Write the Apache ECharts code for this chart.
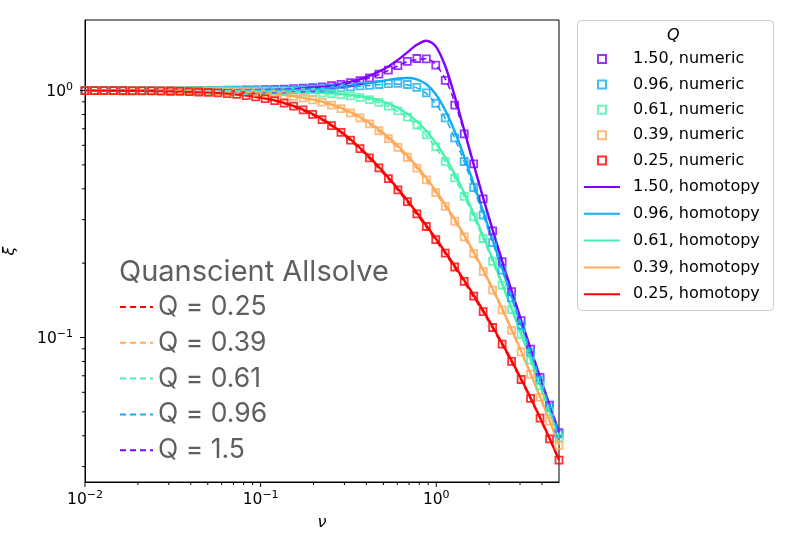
<!DOCTYPE html>
<html>
<head>
<meta charset="utf-8">
<script src="https://cdn.jsdelivr.net/npm/echarts@6/dist/echarts.min.js"></script>
<style>
html, body { margin: 0; padding: 0; background: #fff; }
#chart { width: 795px; height: 545px; }
</style>
</head>
<body>
<div id="chart"></div>
<script>
// frequency grid (same for every curve)
var nu = [0.01, 0.01132, 0.01282, 0.01452, 0.01644, 0.01862, 0.02108, 0.02387, 0.02703, 0.03061,
    0.03466, 0.03925, 0.04445, 0.05033, 0.05699, 0.06453, 0.07308, 0.08275, 0.0937, 0.1061,
    0.1202, 0.1361, 0.1541, 0.1745, 0.1976, 0.2237, 0.2533, 0.2868, 0.3248, 0.3678,
    0.4165, 0.4716, 0.534, 0.6047, 0.6848, 0.7754, 0.878, 0.9936, 1.125, 1.274,
    1.443, 1.634, 1.85, 2.095, 2.372, 2.686, 3.042, 3.444, 3.9, 4.416, 5.0];

var xRange = [0.01, 5];
var yRange = [0.026, 1.93];
var xMajor = [0.01, 0.1, 1];
var xMinor = [0.02, 0.03, 0.04, 0.05, 0.06, 0.07, 0.08, 0.09, 0.2, 0.3, 0.4, 0.5, 0.6, 0.7, 0.8, 0.9, 2, 3, 4];
var yMajor = [0.1, 1];
var yMinor = [0.03, 0.04, 0.05, 0.06, 0.07, 0.08, 0.09, 0.2, 0.3, 0.4, 0.5, 0.6, 0.7, 0.8, 0.9];

// homotopy (solid)
var homotopy150 = [1.0001, 1.0001, 1.0001, 1.0002, 1.0002, 1.0003, 1.0003, 1.0004, 1.0006, 1.0007,
    1.0009, 1.0012, 1.0015, 1.0020, 1.0025, 1.0033, 1.0042, 1.0053, 1.0069, 1.0088,
    1.0113, 1.0145, 1.0187, 1.0241, 1.0310, 1.0399, 1.0516, 1.0668, 1.0866, 1.1126,
    1.1469, 1.1923, 1.2523, 1.3305, 1.4279, 1.5318, 1.5910, 1.5094, 1.2564, 0.9492,
    0.6910, 0.5018, 0.3679, 0.2729, 0.2045, 0.1546, 0.1177, 0.0901, 0.0692, 0.0534, 0.0413];
var homotopy096 = [1.0000, 1.0001, 1.0001, 1.0001, 1.0001, 1.0002, 1.0002, 1.0003, 1.0003, 1.0004,
    1.0005, 1.0007, 1.0009, 1.0012, 1.0015, 1.0019, 1.0024, 1.0031, 1.0040, 1.0051,
    1.0066, 1.0084, 1.0108, 1.0137, 1.0175, 1.0224, 1.0285, 1.0361, 1.0457, 1.0573,
    1.0713, 1.0872, 1.1041, 1.1186, 1.1245, 1.1102, 1.0606, 0.9661, 0.8320, 0.6820,
    0.5401, 0.4195, 0.3231, 0.2481, 0.1907, 0.1467, 0.1131, 0.0874, 0.0677, 0.0525, 0.0407];
var homotopy061 = [1.0000, 1.0000, 0.9999, 0.9999, 0.9999, 0.9999, 0.9999, 0.9998, 0.9998, 0.9997,
    0.9996, 0.9995, 0.9993, 0.9991, 0.9989, 0.9986, 0.9982, 0.9976, 0.9970, 0.9961,
    0.9950, 0.9936, 0.9917, 0.9893, 0.9861, 0.9821, 0.9767, 0.9698, 0.9607, 0.9486,
    0.9328, 0.9120, 0.8848, 0.8497, 0.8053, 0.7507, 0.6861, 0.6140, 0.5366, 0.4588,
    0.3846, 0.3169, 0.2577, 0.2073, 0.1655, 0.1313, 0.1037, 0.0817, 0.0642, 0.0503, 0.0394];
var homotopy039 = [0.9998, 0.9997, 0.9996, 0.9995, 0.9994, 0.9992, 0.9990, 0.9987, 0.9983, 0.9979,
    0.9973, 0.9965, 0.9955, 0.9943, 0.9927, 0.9906, 0.9880, 0.9847, 0.9805, 0.9751,
    0.9684, 0.9600, 0.9495, 0.9365, 0.9205, 0.9011, 0.8778, 0.8503, 0.8182, 0.7815,
    0.7405, 0.6956, 0.6474, 0.5969, 0.5451, 0.4931, 0.4419, 0.3925, 0.3451, 0.3007,
    0.2595, 0.2218, 0.1878, 0.1575, 0.1309, 0.1078, 0.0881, 0.0714, 0.0576, 0.0461, 0.0368];
var homotopy025 = [0.9993, 0.9991, 0.9989, 0.9985, 0.9981, 0.9976, 0.9969, 0.9960, 0.9949, 0.9935,
    0.9917, 0.9894, 0.9865, 0.9827, 0.9780, 0.9720, 0.9646, 0.9553, 0.9437, 0.9294,
    0.9120, 0.8911, 0.8662, 0.8371, 0.8038, 0.7663, 0.7250, 0.6806, 0.6340, 0.5860,
    0.5377, 0.4901, 0.4439, 0.3999, 0.3584, 0.3198, 0.2841, 0.2516, 0.2218, 0.1948,
    0.1703, 0.1483, 0.1284, 0.1106, 0.0947, 0.0806, 0.0680, 0.0570, 0.0474, 0.0391, 0.0320];

// numeric (square markers)
var numeric150 = [1.0000, 1.0000, 1.0001, 1.0001, 1.0002, 1.0002, 1.0003, 1.0004, 1.0005, 1.0007,
    1.0008, 1.0011, 1.0014, 1.0018, 1.0023, 1.0029, 1.0037, 1.0048, 1.0061, 1.0079,
    1.0101, 1.0129, 1.0166, 1.0214, 1.0275, 1.0353, 1.0455, 1.0586, 1.0755, 1.0975,
    1.126, 1.165, 1.210, 1.262, 1.312, 1.348, 1.342, 1.268, 1.100, 0.872,
    0.668, 0.505, 0.364, 0.270, 0.2030, 0.1535, 0.1170, 0.0897, 0.0690, 0.0532, 0.0412];
var numeric096 = [1.0000, 1.0000, 1.0001, 1.0001, 1.0001, 1.0001, 1.0002, 1.0002, 1.0003, 1.0003,
    1.0004, 1.0006, 1.0007, 1.0009, 1.0012, 1.0015, 1.0020, 1.0025, 1.0032, 1.0041,
    1.0053, 1.0067, 1.0086, 1.0110, 1.0140, 1.0177, 1.0224, 1.0282, 1.0353, 1.0436,
    1.050, 1.058, 1.066, 1.068, 1.058, 1.030, 0.978, 0.888, 0.775, 0.643,
    0.516, 0.405, 0.3134, 0.2425, 0.1873, 0.1448, 0.1120, 0.0867, 0.0673, 0.0522, 0.0406];
var numeric061 = [1.0000, 0.9999, 0.9999, 0.9999, 0.9999, 0.9998, 0.9998, 0.9997, 0.9997, 0.9996,
    0.9995, 0.9993, 0.9991, 0.9989, 0.9985, 0.9981, 0.9976, 0.9969, 0.9960, 0.9949,
    0.9935, 0.9916, 0.9892, 0.9861, 0.9822, 0.9771, 0.9704, 0.9619, 0.9508, 0.9366,
    0.9182, 0.8946, 0.8645, 0.8268, 0.7804, 0.7250, 0.6611, 0.5910, 0.5169, 0.4430,
    0.3725, 0.3082, 0.2517, 0.2033, 0.1628, 0.1296, 0.1027, 0.0810, 0.0638, 0.0501, 0.0393];
var numeric039 = [0.9998, 0.9997, 0.9996, 0.9995, 0.9993, 0.9991, 0.9989, 0.9986, 0.9982, 0.9977,
    0.9971, 0.9963, 0.9953, 0.9940, 0.9923, 0.9901, 0.9874, 0.9840, 0.9795, 0.9740,
    0.9670, 0.9582, 0.9472, 0.9337, 0.9171, 0.8971, 0.8730, 0.8446, 0.8118, 0.7744,
    0.7327, 0.6873, 0.6388, 0.5883, 0.5368, 0.4852, 0.4346, 0.3859, 0.3394, 0.2958,
    0.2555, 0.2186, 0.1853, 0.1556, 0.1295, 0.1068, 0.0874, 0.0710, 0.0572, 0.0459, 0.0366];
var numeric025 = [0.9993, 0.9991, 0.9989, 0.9985, 0.9981, 0.9975, 0.9968, 0.9959, 0.9948, 0.9933,
    0.9915, 0.9892, 0.9862, 0.9824, 0.9776, 0.9715, 0.9639, 0.9544, 0.9425, 0.9280,
    0.9103, 0.8891, 0.8639, 0.8344, 0.8007, 0.7629, 0.7214, 0.6768, 0.6300, 0.5819,
    0.5337, 0.4862, 0.4402, 0.3964, 0.3552, 0.3169, 0.2815, 0.2493, 0.2198, 0.1930,
    0.1688, 0.1470, 0.1274, 0.1098, 0.0940, 0.0800, 0.0676, 0.0567, 0.0472, 0.0389, 0.0319];

// Quanscient Allsolve (dashed), every second frequency
var allsolve150 = [1.0000, 1.0001, 1.0002, 1.0003, 1.0005, 1.0008, 1.0014, 1.0022, 1.0036, 1.0059,
    1.0098, 1.0160, 1.0265, 1.0440, 1.0735, 1.1230, 1.2060, 1.3080, 1.3450, 1.1150,
    0.6780, 0.3660, 0.2010, 0.1168, 0.0689, 0.0412];
var allsolve096 = [1.0000, 1.0001, 1.0001, 1.0002, 1.0003, 1.0004, 1.0007, 1.0011, 1.0019, 1.0030,
    1.0050, 1.0082, 1.0133, 1.0212, 1.0335, 1.0480, 1.0630, 1.0540, 0.9720, 0.7720,
    0.5140, 0.3125, 0.1870, 0.1118, 0.0672, 0.0405];
var allsolve061 = [1.0000, 0.9999, 0.9999, 0.9998, 0.9996, 0.9994, 0.9990, 0.9983, 0.9972, 0.9954,
    0.9925, 0.9878, 0.9802, 0.9680, 0.9485, 0.9160, 0.8620, 0.7775, 0.6580, 0.5150,
    0.3715, 0.2512, 0.1625, 0.1025, 0.0637, 0.0392];
var allsolve039 = [0.9998, 0.9996, 0.9993, 0.9988, 0.9981, 0.9969, 0.9950, 0.9918, 0.9866, 0.9785,
    0.9655, 0.9450, 0.9140, 0.8690, 0.8070, 0.7275, 0.6340, 0.5330, 0.4318, 0.3375,
    0.2543, 0.1846, 0.1291, 0.0872, 0.0571, 0.0365];
var allsolve025 = [0.9993, 0.9988, 0.9979, 0.9965, 0.9943, 0.9907, 0.9850, 0.9760, 0.9615, 0.9395,
    0.9065, 0.8595, 0.7960, 0.7170, 0.6260, 0.5300, 0.4370, 0.3525, 0.2793, 0.2180,
    0.1673, 0.1263, 0.0932, 0.0671, 0.0469, 0.0318];

var qLabels = ['1.50', '0.96', '0.61', '0.39', '0.25'];
var qShort = ['1.5', '0.96', '0.61', '0.39', '0.25'];
var colors = ['#8000ff', '#14acf0', '#46f2ad', '#ffaa5a', '#ff0000'];

var homotopy = [homotopy150, homotopy096, homotopy061, homotopy039, homotopy025];
var numeric = [numeric150, numeric096, numeric061, numeric039, numeric025];
var allsolve = [allsolve150, allsolve096, allsolve061, allsolve039, allsolve025];
var nuDash = nu.filter(function (v, i) { return i % 2 === 0; });

function pairs(xs, ys) {
    return ys.map(function (y, i) { return [xs[i], y]; });
}

function powLabel(v) {
    var e = Math.round(Math.log(v) / Math.LN10);
    return '{b|10}{s|' + (e < 0 ? '\u2212' + (-e) : e) + '}';
}
var powRich = {
    b: { fontSize: 15.5, fontFamily: 'DejaVu Sans', color: '#000', verticalAlign: 'bottom' },
    s: { fontSize: 11, fontFamily: 'DejaVu Sans', color: '#000', verticalAlign: 'top', padding: [0, 0, 7, 0] }
};

// outward tick marks drawn through the axes (matplotlib style major/minor)
function tickSeries(values, dim, len) {
    return {
        type: 'custom', silent: true, clip: false, z: 6,
        data: values.map(function (v) { return dim === 'x' ? [v, yRange[0]] : [xRange[0], v]; }),
        renderItem: function (params, api) {
            var p = api.coord([api.value(0), api.value(1)]);
            var shape = dim === 'x'
                ? { x1: p[0], y1: p[1], x2: p[0], y2: p[1] + len }
                : { x1: p[0] - len, y1: p[1], x2: p[0], y2: p[1] };
            return { type: 'line', shape: shape, style: { stroke: '#000', lineWidth: 1 } };
        }
    };
}

var series = [];
for (var i = 0; i < 5; i++) {
    series.push({
        name: qLabels[i] + ', homotopy', type: 'line', z: 2,
        data: pairs(nu, homotopy[i]), symbol: 'none', smooth: 0.3,
        lineStyle: { color: colors[i], width: 2.4 }, itemStyle: { color: colors[i] }
    });
}
for (var i = 0; i < 5; i++) {
    series.push({
        name: qLabels[i] + ', numeric', type: 'scatter', z: 3,
        data: pairs(nu, numeric[i]), symbol: 'rect', symbolSize: 7,
        itemStyle: { color: 'rgba(255,255,255,0)', borderColor: colors[i], borderWidth: 1.8 }
    });
}
for (var i = 0; i < 5; i++) {
    series.push({
        name: 'Q = ' + qShort[i], type: 'line', z: 4,
        data: pairs(nuDash, allsolve[i]), symbol: 'none', smooth: 0.3,
        lineStyle: { color: colors[i], width: 1.5, type: [6, 4] }, itemStyle: { color: colors[i] }
    });
}
series.push(tickSeries(xMajor, 'x', 5));
series.push(tickSeries(xMinor, 'x', 3));
series.push(tickSeries(yMajor, 'y', 5));
series.push(tickSeries(yMinor, 'y', 3));

var noSymbol = { color: 'rgba(0,0,0,0)', borderWidth: 0 };

var myChart = echarts.init(document.getElementById('chart'));
var option = {
    animation: false,
    backgroundColor: '#fff',
    title: [{
        text: 'Quanscient Allsolve', left: 119, top: 258, padding: 0,
        textStyle: { fontFamily: 'Inter', fontSize: 29, fontWeight: 'normal', color: '#5f5f5f' }
    }, {
        text: 'Q', left: 667, top: 28, padding: 0,
        textStyle: { fontFamily: 'DejaVu Sans', fontSize: 16, fontStyle: 'italic', fontWeight: 'normal', color: '#000' }
    }],
    graphic: [{
        type: 'rect', left: 577, top: 20, z: 0,
        shape: { width: 196, height: 290, r: 4 },
        style: { fill: '#fff', stroke: '#cccccc', lineWidth: 1 }
    }],
    legend: [{
        data: qLabels.map(function (q) { return q + ', numeric'; }),
        orient: 'vertical', left: 597, top: 49, padding: 0, selectedMode: false,
        itemWidth: 8, itemHeight: 8, itemGap: 5.4,
        textStyle: { fontFamily: 'DejaVu Sans', fontSize: 16, lineHeight: 20, color: '#000', padding: [0, 0, 0, 22] }
    }, {
        data: qLabels.map(function (q) { return q + ', homotopy'; }),
        orient: 'vertical', left: 583, top: 177, padding: 0, selectedMode: false,
        itemWidth: 36, itemHeight: 12, itemGap: 6.8, itemStyle: noSymbol,
        textStyle: { fontFamily: 'DejaVu Sans', fontSize: 16, lineHeight: 20, color: '#000', padding: [0, 0, 0, 8] }
    }, {
        data: qShort.slice().reverse().map(function (q) { return 'Q = ' + q; }),
        orient: 'vertical', left: 119, top: 292, padding: 0, selectedMode: false,
        itemWidth: 33, itemHeight: 12, itemGap: 5.8, itemStyle: noSymbol,
        textStyle: { fontFamily: 'Inter', fontSize: 26.5, lineHeight: 30, color: '#5f5f5f' }
    }],
    grid: {
        left: 85, right: 236, top: 20, bottom: 63,
        containLabel: false, outerBoundsMode: 'none',
        show: true, borderColor: '#000', borderWidth: 1, backgroundColor: 'rgba(0,0,0,0)'
    },
    xAxis: {
        type: 'log', min: xRange[0], max: xRange[1], position: 'bottom',
        axisLine: { show: true, lineStyle: { color: '#000', width: 1 } }, splitLine: { show: false },
        axisTick: { show: false },
        axisLabel: { customValues: xMajor, formatter: powLabel, rich: powRich, margin: 8 },
        name: 'ν', nameLocation: 'middle', nameGap: 33,
        nameTextStyle: { fontFamily: 'DejaVu Sans', fontStyle: 'italic', fontSize: 16, color: '#000' }
    },
    yAxis: {
        type: 'log', min: yRange[0], max: yRange[1], position: 'left',
        axisLine: { show: true, lineStyle: { color: '#000', width: 1 } }, splitLine: { show: false },
        axisTick: { show: false },
        axisLabel: { customValues: yMajor, formatter: powLabel, rich: powRich, margin: 12 },
        name: 'ξ', nameLocation: 'middle', nameGap: 67,
        nameTextStyle: { fontFamily: 'DejaVu Sans', fontStyle: 'italic', fontSize: 16, color: '#000' }
    },
    series: series
};
myChart.setOption(option);
</script>
</body>
</html>
